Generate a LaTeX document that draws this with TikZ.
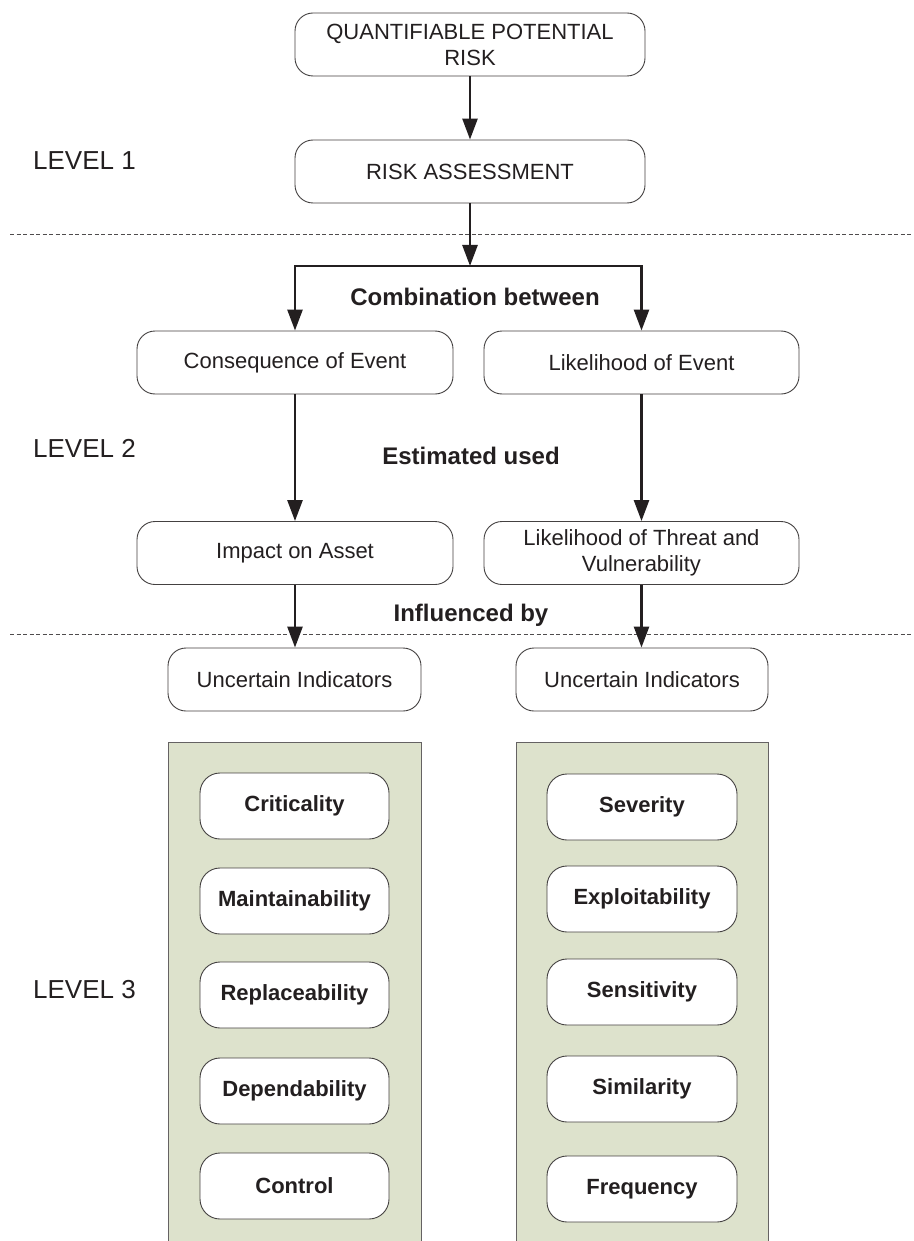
\documentclass[tikz,border=0pt]{standalone}
\usepackage{fontspec}
\setmainfont{Liberation Sans}
\usetikzlibrary{arrows.meta}
\definecolor{ink}{HTML}{231F20}
\definecolor{panelgreen}{HTML}{DDE2CC}
\begin{document}
\begin{tikzpicture}[x=1pt,y=-1pt,
  box/.style={draw=ink!85, line width=0.9pt, rounded corners=18pt, fill=white,
    minimum height=63pt, inner sep=0pt, align=center,
    font=\fontsize{22}{26}\selectfont, text=ink},
  sub/.style={box, minimum height=66pt, minimum width=190pt, rounded corners=20pt,
    font=\fontsize{22}{26}\selectfont\bfseries},
  arr/.style={draw=ink, line width=2.6pt, -{Triangle[length=21pt,width=15pt]}},
  lab/.style={font=\fontsize{24}{28}\selectfont\bfseries, text=ink, inner sep=0pt},
  lvl/.style={font=\fontsize{26}{30}\selectfont, text=ink, anchor=west, inner sep=0pt},
  dashline/.style={draw=ink!80, line width=0.8pt, dash pattern=on 4pt off 2.5pt},
  panel/.style={draw=ink!70, line width=1pt}
]
\useasboundingbox (0,0) rectangle (913,1241);
\fill[white] (0,0) rectangle (913,1241);

% dashed separators
\coordinate (d1a) at (10,234); \coordinate (d1b) at (913,234);
\coordinate (d2a) at (10,634); \coordinate (d2b) at (913,634);
\draw[dashline] (d1a) -- (d1b);
\draw[dashline] (d2a) -- (d2b);

% level labels
\node[lvl] (l1) at (33,161) {LEVEL 1};
\node[lvl] (l2) at (33,448) {LEVEL 2};
\node[lvl] (l3) at (33,990) {LEVEL 3};

% main boxes
\node[box, minimum width=350pt] (top) at (470,44.5) {QUANTIFIABLE POTENTIAL\\RISK};
\node[box, minimum width=350pt] (ra) at (470,171.5) {RISK ASSESSMENT};
\node[box, minimum width=316pt] (cons) at (295,362.5) {Consequence of Event};
\node[box, minimum width=315pt] (like) at (641.5,362.5) {Likelihood of Event};
\node[box, minimum width=316pt] (imp) at (295,553) {Impact on Asset};
\node[box, minimum width=315pt] (thr) at (641.5,553) {Likelihood of Threat and\\Vulnerability};
\node[box, minimum width=253pt] (unc1) at (294.5,679.5) {Uncertain Indicators};
\node[box, minimum width=252pt] (unc2) at (642,679.5) {Uncertain Indicators};

% labels
\node[lab] (comb) at (475,297) {Combination between};
\node[lab] (est) at (471,456) {Estimated used};
\node[lab] (inf) at (471,615) {Influenced by};

% panels
\fill[panelgreen] (168,742) rectangle (421,1241);
\draw[panel] (168,1241) -- (168,742) -- (421,742) -- (421,1241);
\fill[panelgreen] (516,742) rectangle (768,1241);
\draw[panel] (516,1241) -- (516,742) -- (768,742) -- (768,1241);

% indicator boxes
\node[sub, minimum width=189pt] (a1) at (294.5,806) {Criticality};
\node[sub, minimum width=189pt] (a2) at (294.5,901) {Maintainability};
\node[sub, minimum width=189pt] (a3) at (294.5,995) {Replaceability};
\node[sub, minimum width=189pt] (a4) at (294.5,1091) {Dependability};
\node[sub, minimum width=189pt] (a5) at (294.5,1186) {Control};
\node[sub] (b1) at (642,807) {Severity};
\node[sub] (b2) at (642,899) {Exploitability};
\node[sub] (b3) at (642,992) {Sensitivity};
\node[sub] (b4) at (642,1089) {Similarity};
\node[sub] (b5) at (642,1189) {Frequency};

% connectors
\coordinate (split) at (470,266);
\draw[arr] (top.south) -- (ra.north);
\draw[arr] (ra.south) -- (split);
\draw[arr] (split) -| (cons.north);
\draw[arr] (split) -| (like.north);
\draw[arr] (cons.south) -- (imp.north);
\draw[arr] (like.south) -- (thr.north);
\draw[arr] (imp.south) -- (imp.south |- unc1.north);
\draw[arr] (thr.south) -- (thr.south |- unc2.north);
\end{tikzpicture}
\end{document}
